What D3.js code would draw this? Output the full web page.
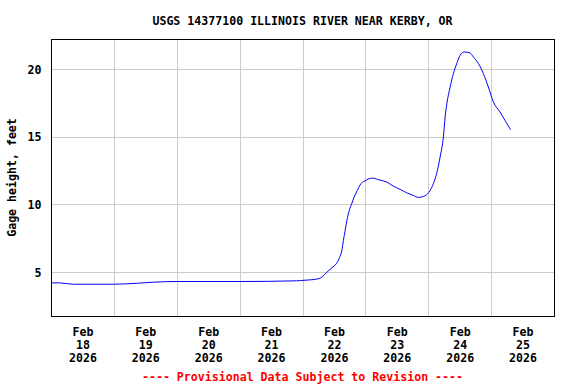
<!DOCTYPE html>
<html>
<head>
<meta charset="utf-8">
<script src="https://cdn.jsdelivr.net/npm/d3@7"></script>
<style>
  body { margin: 0; background: #fff; }
  text { font-family: "DejaVu Sans Mono", monospace; font-weight: bold; font-size: 11.6px; }
</style>
</head>
<body>
<div id="chart-container"></div>
<script>
// Gage height readings (feet)
const times = [
    "2026-02-18T00:00", "2026-02-18T03:00", "2026-02-18T08:00", "2026-02-19T00:00",
    "2026-02-19T08:30", "2026-02-19T15:00", "2026-02-20T00:00", "2026-02-21T00:00",
    "2026-02-21T21:30", "2026-02-21T23:00", "2026-02-22T02:45", "2026-02-22T05:50",
    "2026-02-22T07:10", "2026-02-22T09:05", "2026-02-22T11:00", "2026-02-22T12:40",
    "2026-02-22T13:55", "2026-02-22T14:50", "2026-02-22T15:25", "2026-02-22T16:05",
    "2026-02-22T16:45", "2026-02-22T17:40", "2026-02-22T18:35", "2026-02-22T19:30",
    "2026-02-22T20:45", "2026-02-22T21:45", "2026-02-22T23:40", "2026-02-23T02:30",
    "2026-02-23T05:25", "2026-02-23T08:00", "2026-02-23T10:30", "2026-02-23T13:05",
    "2026-02-23T15:35", "2026-02-23T18:10", "2026-02-23T20:00", "2026-02-23T22:35",
    "2026-02-24T00:30", "2026-02-24T01:45", "2026-02-24T03:00", "2026-02-24T04:20",
    "2026-02-24T05:35", "2026-02-24T06:15", "2026-02-24T06:55", "2026-02-24T08:10",
    "2026-02-24T09:25", "2026-02-24T10:40", "2026-02-24T12:00", "2026-02-24T13:30",
    "2026-02-24T15:45", "2026-02-24T17:00", "2026-02-24T19:00", "2026-02-24T20:50",
    "2026-02-24T22:45", "2026-02-25T00:40", "2026-02-25T03:15", "2026-02-25T05:05",
    "2026-02-25T07:15"
];
const gageHeight = [
    4.26, 4.26, 4.16, 4.16,
    4.23, 4.31, 4.36, 4.36,
    4.41, 4.43, 4.48, 4.56,
    4.68, 5.04, 5.37, 5.66,
    6.11, 6.65, 7.38, 8.12,
    8.86, 9.60, 10.09, 10.58,
    11.07, 11.47, 11.78, 11.98,
    11.83, 11.69, 11.39, 11.15,
    10.90, 10.70, 10.56, 10.68,
    11.07, 11.57, 12.31, 13.53,
    15.01, 16.48, 17.47, 18.70,
    19.69, 20.42, 21.04, 21.28,
    21.21, 20.92, 20.42, 19.69,
    18.70, 17.60, 16.85, 16.24,
    15.55
];
const yTicks = [5, 10, 15, 20];
const dayTicks = ["2026-02-18", "2026-02-19", "2026-02-20", "2026-02-21",
                  "2026-02-22", "2026-02-23", "2026-02-24", "2026-02-25"];
const xDomain = ["2026-02-18T00:00", "2026-02-26T00:00"];
const yDomain = [1.78, 22.2];
const title = "USGS 14377100 ILLINOIS RIVER NEAR KERBY, OR";
const yLabel = "Gage height, feet";
const footer = "---- Provisional Data Subject to Revision ----";

const parseTime = d3.timeParse("%Y-%m-%dT%H:%M");
const parseDay = d3.timeParse("%Y-%m-%d");

const fullWidth = 576, fullHeight = 384;
const margin = { top: 39, right: 22, bottom: 68, left: 51 };
const width = fullWidth - margin.left - margin.right;
const height = fullHeight - margin.top - margin.bottom;

const data = times.map((t, i) => ({ date: parseTime(t), value: gageHeight[i] }));

const x = d3.scaleTime()
    .domain(xDomain.map(parseTime))
    .range([0, width]);

const y = d3.scaleLinear()
    .domain(yDomain)
    .range([height, 0]);

const root = d3.select("#chart-container")
    .append("svg")
    .attr("width", fullWidth)
    .attr("height", fullHeight);

const svg = root.append("g")
    .attr("transform", `translate(${margin.left + 0.5},${margin.top + 0.5})`);

// grid lines: vertical at each midnight, horizontal at y ticks
const midnights = d3.timeDay.range(x.domain()[0], x.domain()[1]).slice(1);
svg.append("g")
    .selectAll("line")
    .data(midnights)
    .join("line")
    .attr("x1", d => Math.round(x(d)))
    .attr("x2", d => Math.round(x(d)))
    .attr("y1", 0)
    .attr("y2", height)
    .attr("stroke", "#cccccc")
    .attr("shape-rendering", "crispEdges");

svg.append("g")
    .selectAll("line")
    .data(yTicks)
    .join("line")
    .attr("x1", 0)
    .attr("x2", width)
    .attr("y1", d => Math.round(y(d)))
    .attr("y2", d => Math.round(y(d)))
    .attr("stroke", "#cccccc")
    .attr("shape-rendering", "crispEdges");

// y axis labels
svg.append("g")
    .call(d3.axisLeft(y).tickValues(yTicks).tickSize(0).tickPadding(10))
    .call(g => g.select(".domain").remove())
    .selectAll(".tick text")
    .attr("fill", "#000")
    .style("font-family", "DejaVu Sans Mono")
    .style("font-size", "11.6px")
    .style("font-weight", "bold");

// x axis labels (centered at noon of each day, three lines)
const noon = d => d3.timeHour.offset(parseDay(d), 12);
const xLabels = svg.append("g")
    .selectAll("text")
    .data(dayTicks)
    .join("text")
    .attr("text-anchor", "middle")
    .attr("x", d => x(noon(d)));
xLabels.append("tspan").attr("x", d => x(noon(d))).attr("y", height + 19)
    .text(d => d3.timeFormat("%b")(parseDay(d)));
xLabels.append("tspan").attr("x", d => x(noon(d))).attr("y", height + 32)
    .text(d => d3.timeFormat("%d")(parseDay(d)));
xLabels.append("tspan").attr("x", d => x(noon(d))).attr("y", height + 45.5)
    .text(d => d3.timeFormat("%Y")(parseDay(d)));

// the data line
const line = d3.line()
    .x(d => x(d.date))
    .y(d => y(d.value))
    .curve(d3.curveMonotoneX);

svg.append("path")
    .datum(data)
    .attr("fill", "none")
    .attr("stroke", "#0000ff")
    .attr("stroke-width", 1)
    .attr("d", line);

// frame
svg.append("rect")
    .attr("width", width)
    .attr("height", height)
    .attr("fill", "none")
    .attr("stroke", "#000")
    .attr("shape-rendering", "crispEdges");

// title
root.append("text")
    .attr("x", margin.left + width / 2)
    .attr("y", 25)
    .attr("text-anchor", "middle")
    .text(title);

// y axis title
root.append("text")
    .attr("transform", `translate(16,${margin.top + height / 2}) rotate(-90)`)
    .attr("text-anchor", "middle")
    .text(yLabel);

// footer
root.append("text")
    .attr("x", margin.left + width / 2)
    .attr("y", 380.5)
    .attr("text-anchor", "middle")
    .attr("fill", "#ff0000")
    .text(footer);
</script>
</body>
</html>
